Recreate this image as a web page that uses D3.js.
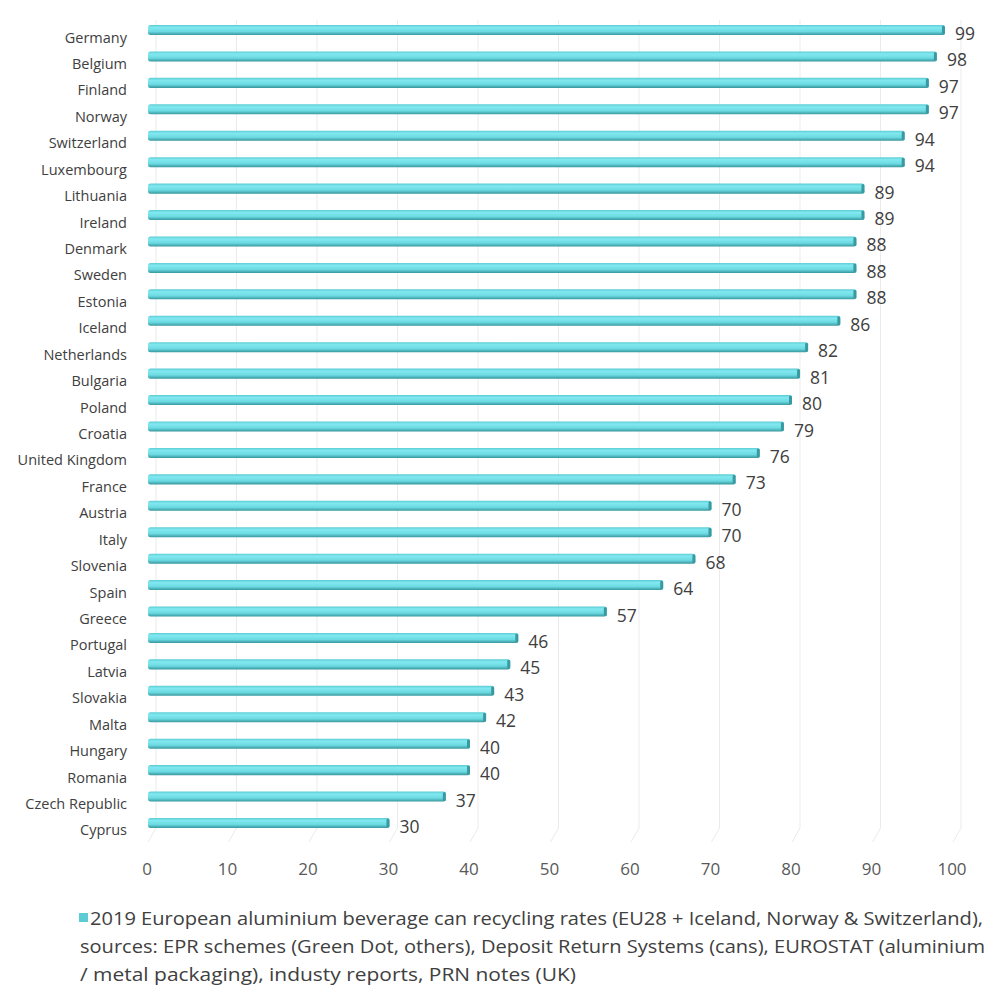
<!DOCTYPE html>
<html><head><meta charset="utf-8">
<script src="https://cdn.jsdelivr.net/npm/d3@7"></script>
<style>body{margin:0;background:#fff}</style>
</head><body>
<svg id="c" width="1000" height="1006"></svg>
<script>
const countries = ["Germany","Belgium","Finland","Norway","Switzerland","Luxembourg","Lithuania","Ireland","Denmark","Sweden","Estonia","Iceland","Netherlands","Bulgaria","Poland","Croatia","United Kingdom","France","Austria","Italy","Slovenia","Spain","Greece","Portugal","Latvia","Slovakia","Malta","Hungary","Romania","Czech Republic","Cyprus"];
const rates = [99,98,97,97,94,94,89,89,88,88,88,86,82,81,80,79,76,73,70,70,68,64,57,46,45,43,42,40,40,37,30];
const ticks = [0,10,20,30,40,50,60,70,80,90,100];
const legendLines = ["2019 European aluminium beverage can recycling rates (EU28 + Iceland, Norway & Switzerland),",
  "sources: EPR schemes (Green Dot, others), Deposit Return Systems (cans), EUROSTAT (aluminium",
  "/ metal packaging), industy reports, PRN notes (UK)"];

const svg = d3.select("#c");
const font = "'Open Sans', sans-serif";
const x = d3.scaleLinear().domain([0,100]).range([148,953]);
const y = d3.scaleBand().domain(countries).range([16.8, 836.2]).paddingInner(0.62).paddingOuter(0.31);

const defs = svg.append("defs");
const g = defs.append("linearGradient").attr("id","bar").attr("x1",0).attr("x2",0).attr("y1",0).attr("y2",1);
g.append("stop").attr("offset","0%").attr("stop-color","#5bccd4");
g.append("stop").attr("offset","25%").attr("stop-color","#82e8f0");
g.append("stop").attr("offset","65%").attr("stop-color","#6cdae2");
g.append("stop").attr("offset","100%").attr("stop-color","#37979e");

// gridlines (3D wall + floor)
const gridTop = 20, wallBottom = 828, floorY = 842, depth = 8;
svg.append("g").selectAll("path").data(ticks).join("path")
  .attr("d", d => `M${x(d)+depth},${gridTop}V${wallBottom}L${x(d)},${floorY}`)
  .attr("fill","none").attr("stroke","#ebebeb").attr("stroke-width",1);

// bars
const bh = y.bandwidth();
const bars = svg.append("g");
bars.selectAll("rect.b").data(countries).join("rect").attr("class","b")
  .attr("x", x(0)).attr("y", d => y(d))
  .attr("width", (d,i) => x(rates[i]) - x(0)).attr("height", bh)
  .attr("rx", 2.5).attr("fill","url(#bar)");
bars.selectAll("rect.cap").data(countries).join("rect").attr("class","cap")
  .attr("x", (d,i) => x(rates[i]) - 3).attr("y", d => y(d)+0.5)
  .attr("width", 3).attr("height", bh-1).attr("rx",1.5)
  .attr("fill","#3a9aa1");

// category labels
svg.append("g").selectAll("text").data(countries).join("text")
  .attr("x", 127).attr("y", d => y(d) + bh/2 + 7)
  .attr("text-anchor","end").attr("dominant-baseline","central")
  .attr("font-family", font).attr("font-size", 14.5).attr("fill","#404040")
  .text(d => d);

// value labels
svg.append("g").selectAll("text").data(countries).join("text")
  .attr("x", (d,i) => x(rates[i]) + 10).attr("y", d => y(d) + bh/2 + 3)
  .attr("dominant-baseline","central")
  .attr("font-family", font).attr("font-size", 17.5).attr("fill","#404040")
  .text((d,i) => rates[i]);

// x axis tick labels
svg.append("g").selectAll("text").data(ticks).join("text")
  .attr("x", d => x(d) - 1).attr("y", 868)
  .attr("text-anchor","middle").attr("dominant-baseline","central")
  .attr("font-family", font).attr("font-size", 17).attr("fill","#595959")
  .text(d => d);

// legend
const legendX = [90, 80, 80], legendW = [893, 905, 496];
svg.append("rect").attr("x",79).attr("y",913).attr("width",9).attr("height",9).attr("fill","#5bccd4");
svg.append("g").selectAll("text").data(legendLines).join("text")
  .attr("x", (d,i) => legendX[i]).attr("y", (d,i) => 918 + i*28)
  .attr("dominant-baseline","central")
  .attr("textLength", (d,i) => legendW[i]).attr("lengthAdjust","spacingAndGlyphs")
  .attr("font-family", font).attr("font-size", 18).attr("fill","#404040")
  .text(d => d);
</script>
</body></html>
